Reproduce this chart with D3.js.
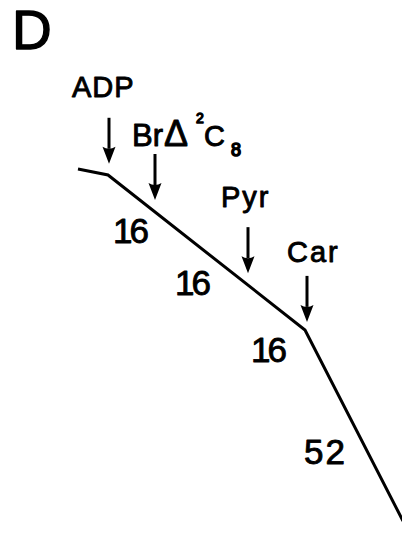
<!DOCTYPE html>
<html>
<head>
<meta charset="utf-8">
<script src="https://cdn.jsdelivr.net/npm/d3@7"></script>
<style>
  html, body { margin: 0; padding: 0; background: #fff; }
  svg { display: block; }
  text { font-family: "Liberation Sans", Arial, sans-serif; fill: #000; stroke: #000; stroke-width: 0.9px; stroke-linejoin: round; }
</style>
</head>
<body>
<script>
// Oxygen electrode trace, panel D: O2 remaining (nmol) against time (s)
const traceTimes = [0, 30, 227, 325];
const traceO2    = [400, 394, 239, 48];

// Substrate additions (time of addition, s)
const additionNames = ["ADP", "BrΔ²C8", "Pyr", "Car"];
const additionTimes = [31, 77, 170, 229];

// Respiration rates written beside the trace (nmol O2/min) and where they sit
const rateValues = [16, 16, 16, 52];
const rateTimes  = [37, 99, 175, 228];
const rateO2     = [326, 274, 207, 105];

const panelLabel = "D";

const W = 402, H = 542;
const svg = d3.select("body").append("svg").attr("width", W).attr("height", H);

const x = d3.scaleLinear().domain([0, 325]).range([78, 403]);
const y = d3.scaleLinear().domain([0, 400]).range([569, 169]);

// panel letter
svg.append("text").attr("x", 12).attr("y", 49)
  .attr("font-size", 55).style("stroke-width", "1.3px")
  .text(panelLabel);

// trace
const trace = traceTimes.map((t, i) => [t, traceO2[i]]);
svg.append("path")
  .datum(trace)
  .attr("fill", "none").attr("stroke", "#000").attr("stroke-width", 3)
  .attr("stroke-linejoin", "miter")
  .attr("d", d3.line().x(d => x(d[0])).y(d => y(d[1])));

const o2At = d3.scaleLinear().domain(traceTimes).range(traceO2);

// addition arrows
const gap = 12, shaft = 46, headLen = 17, headHalf = 6.5;
const labelOffsets = [[-37, -21], [-23, -8], [-27, -20], [-20, -14]];

additionNames.forEach((name, i) => {
  const ax = x(additionTimes[i]);
  const tip = y(o2At(additionTimes[i])) - gap;
  const top = tip - shaft;
  const g = svg.append("g");
  g.append("line").attr("x1", ax).attr("x2", ax).attr("y1", top).attr("y2", tip - headLen + 2)
    .attr("stroke", "#000").attr("stroke-width", 3);
  g.append("path")
    .attr("d", `M${ax - headHalf},${tip - headLen} Q${ax},${tip - headLen + 4} ${ax + headHalf},${tip - headLen} L${ax},${tip} Z`)
    .attr("fill", "#000");

  const lx = ax + labelOffsets[i][0], ly = top + labelOffsets[i][1];
  const t = svg.append("text").attr("x", lx).attr("y", ly);
  if (name === "BrΔ²C8") {
    t.attr("font-size", 31);
    t.append("tspan").text("Br");
    t.append("tspan").attr("x", lx + 32).attr("font-size", 36).text("Δ");
    t.append("tspan").attr("x", lx + 64).attr("dy", -23).attr("font-size", 14).style("stroke-width", "1.4px").text("2");
    t.append("tspan").attr("x", lx + 72).attr("dy", 23).attr("font-size", 29).text("C");
    t.append("tspan").attr("x", lx + 99).attr("dy", 10).attr("font-size", 18).style("stroke-width", "1.6px").text("8");
  } else {
    t.attr("font-size", 29)
      .attr("letter-spacing", name === "ADP" ? 1 : 2)
      .text(name);
  }
});

// rate labels
rateValues.forEach((v, i) => {
  svg.append("text")
    .attr("x", x(rateTimes[i]) - 2).attr("y", y(rateO2[i]))
    .attr("font-size", 35)
    .attr("letter-spacing", v === 16 ? -3 : 2)
    .text(v);
});
</script>
</body>
</html>
